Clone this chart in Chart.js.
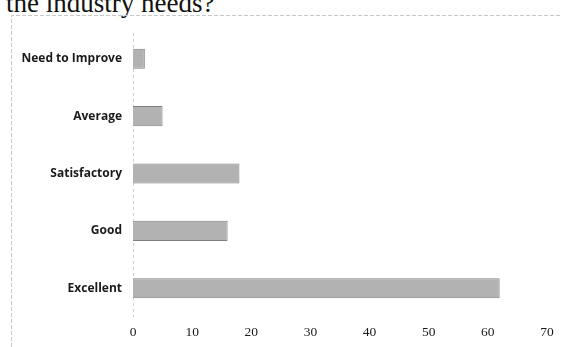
<!DOCTYPE html>
<html><head><meta charset="utf-8">
<script src="https://cdn.jsdelivr.net/npm/chart.js@4/dist/chart.umd.min.js"></script>
<style>
html,body{margin:0;padding:0;background:#fff;overflow:hidden;}
#wrap{position:relative;width:561px;height:347px;}
#title{position:absolute;left:6px;top:-12px;font-family:"Liberation Serif",serif;font-size:27px;color:#111;white-space:nowrap;}
canvas{position:absolute;left:0;top:0;}
</style></head>
<body><div id="wrap"><div id="title">the industry needs?</div><canvas id="c" width="561" height="347"></canvas></div>
<script>
const categories = ["Need to Improve", "Average", "Satisfactory", "Good", "Excellent"];
const values = [2, 5, 18, 16, 62];
const xTicks = [0, 10, 20, 30, 40, 50, 60, 70];

const framePlugin = {
  id: 'frame',
  beforeDraw(chart) {
    const ctx = chart.ctx;
    ctx.save();
    ctx.strokeStyle = '#c8c8c8';
    ctx.lineWidth = 1;
    ctx.setLineDash([4, 2]);
    ctx.beginPath();
    ctx.moveTo(11.5, 347);
    ctx.lineTo(11.5, 15.5);
    ctx.lineTo(561, 15.5);
    ctx.stroke();
    const x = Math.round(chart.chartArea.left) + 0.5;
    ctx.strokeStyle = '#d0d0d0';
    ctx.setLineDash([3, 3]);
    ctx.beginPath();
    ctx.moveTo(x, 33);
    ctx.lineTo(x, chart.chartArea.bottom);
    ctx.stroke();
    ctx.restore();
  }
};

new Chart(document.getElementById('c'), {
  type: 'bar',
  data: {
    labels: categories,
    datasets: [{
      data: values,
      backgroundColor: '#b2b2b2',
      borderColor: '#808080',
      borderWidth: 1,
      barPercentage: 0.7,
      categoryPercentage: 0.5
    }]
  },
  options: {
    indexAxis: 'y',
    responsive: false,
    animation: false,
    layout: { padding: { left: 12, top: 30, right: 14, bottom: 0 } },
    plugins: { legend: { display: false }, tooltip: { enabled: false } },
    scales: {
      x: {
        min: 0, max: 70,
        afterBuildTicks(scale) { scale.ticks = xTicks.map(v => ({ value: v })); },
        grid: { display: false, drawTicks: false },
        border: { display: false },
        ticks: { color: '#1a1a1a', padding: 7, font: { family: 'Liberation Serif', size: 13.5 } },
        afterFit(scale) { scale.height = 30; }
      },
      y: {
        grid: { display: false, drawTicks: false },
        border: { display: false },
        ticks: { color: '#1a1a1a', padding: 11, font: { family: 'Open Sans', size: 12, weight: '700' } },
        afterFit(scale) { scale.width = 121; }
      }
    }
  },
  plugins: [framePlugin]
});
</script></body></html>
